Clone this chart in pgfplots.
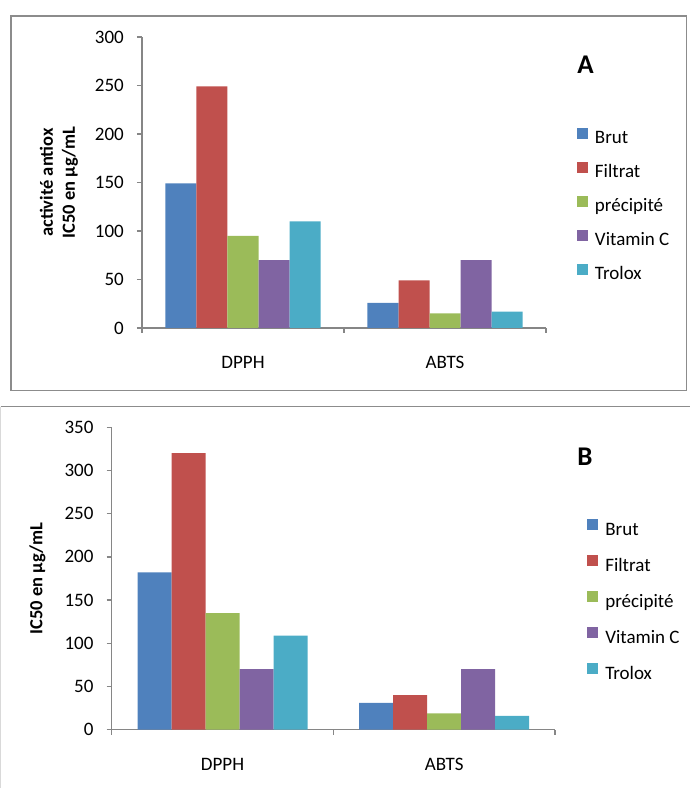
\documentclass[border=0pt]{standalone}
\usepackage{pgfplots}
\pgfplotsset{compat=1.18}
\usepackage{fontspec}
\setmainfont{Carlito}
\definecolor{cBrut}{HTML}{4F81BD}
\definecolor{cFil}{HTML}{C0504D}
\definecolor{cPre}{HTML}{9BBB59}
\definecolor{cVit}{HTML}{8064A2}
\definecolor{cTro}{HTML}{4BACC6}
\definecolor{axgray}{RGB}{134,134,134}
\definecolor{framegray}{RGB}{140,140,140}

\pgfplotsset{
  myaxis/.style={
    scale only axis,
    ybar=0pt,
    ymin=0,
    xmin=-0.5, xmax=1.5,
    xtick={0,1}, xticklabels={DPPH,ABTS},
    minor xtick={-0.5,0.5,1.5},
    axis x line*=bottom, axis y line*=left,
    axis line style={axgray, line width=1.3pt},
    tick align=outside,
    major tick length=5pt, minor tick length=5pt,
    tick style={axgray, line width=1.3pt},
    major x tick style={draw=none},
    minor x tick style={axgray, line width=1.3pt},
    tick label style={font=\fontsize{19}{22}\selectfont, text=black, inner sep=0pt},
    xticklabel style={anchor=north, yshift=-23pt},
    yticklabel style={anchor=east, xshift=-13pt},
    /pgf/number format/assume math mode=true,
    legend cell align=left,
    legend style={draw=none, fill=none, inner sep=0pt, outer sep=0pt, anchor=north west,
      font=\fontsize{19}{22}\selectfont,
      nodes={inner sep=0pt, text height=13pt, text depth=4pt},
      /tikz/every odd column/.append style={column sep=7pt}},
    legend image code/.code={\fill[#1,draw=none] (0pt,0.5pt) rectangle (11pt,11.5pt);},
    ylabel style={font=\bfseries\fontsize{18.5}{22}\selectfont, align=center, text=black, anchor=center},
  }
}

\begin{document}
\begin{tikzpicture}[x=1pt,y=1pt]
\useasboundingbox (0,0) rectangle (689,788);
% frames
\draw[framegray, line width=1.3pt] (11,397.3) rectangle (686.7,772);
\draw[framegray, line width=1.3pt] (0.7,381.3) -- (700,381.3);
\draw[black!15, line width=1.3pt] (0.7,381.3) -- (0.7,-10);

% Panel A
\begin{axis}[myaxis,
  at={(142pt,460pt)}, anchor=south west,
  width=404pt, height=291pt,
  ymax=300, ytick={0,50,...,300},
  bar width=31pt,
  ylabel={activité antiox\\IC50 en µg/mL},
  ylabel style={at={(axis description cs:-0.2054,0.5)}},
  legend style={at={(axis description cs:1.0767,0.6873)}, row sep=14pt},
]
\addplot[fill=cBrut, draw=none] coordinates {(0,149) (1,26)};
\addplot[fill=cFil, draw=none] coordinates {(0,249) (1,49)};
\addplot[fill=cPre, draw=none] coordinates {(0,95) (1,15)};
\addplot[fill=cVit, draw=none] coordinates {(0,70) (1,70)};
\addplot[fill=cTro, draw=none] coordinates {(0,110) (1,17)};
\legend{Brut,Filtrat,précipité,Vitamin C,Trolox}
\end{axis}

% Panel B
\begin{axis}[myaxis,
  at={(111.7pt,58.3pt)}, anchor=south west,
  width=443.3pt, height=302.4pt,
  ymax=350, ytick={0,50,...,350},
  bar width=34pt,
  ylabel={IC50 en µg/mL},
  ylabel style={at={(axis description cs:-0.1676,0.5)}},
  legend style={at={(axis description cs:1.0729,0.6958)}, row sep=16pt},
]
\addplot[fill=cBrut, draw=none] coordinates {(0,182) (1,31)};
\addplot[fill=cFil, draw=none] coordinates {(0,320) (1,40)};
\addplot[fill=cPre, draw=none] coordinates {(0,135) (1,19)};
\addplot[fill=cVit, draw=none] coordinates {(0,70) (1,70)};
\addplot[fill=cTro, draw=none] coordinates {(0,109) (1,16)};
\legend{Brut,Filtrat,précipité,Vitamin C,Trolox}
\end{axis}

\node[font=\bfseries\fontsize{27}{30}\selectfont] at (585.5,723) {A};
\node[font=\bfseries\fontsize{27}{30}\selectfont] at (585,331) {B};
\end{tikzpicture}
\end{document}
